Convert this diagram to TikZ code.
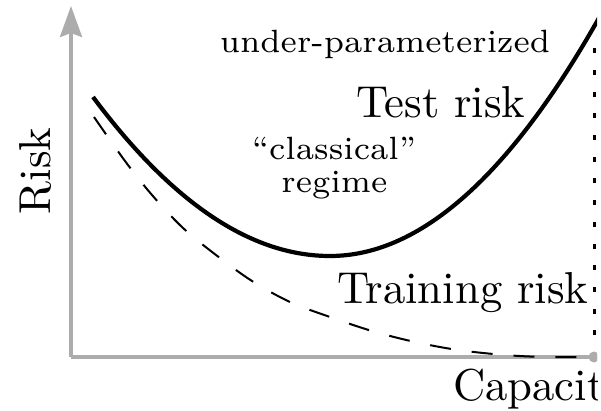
\documentclass[tikz,border=0pt]{standalone}
\usetikzlibrary{arrows.meta}
\definecolor{axisgray}{RGB}{172,172,172}
\begin{document}
\begin{tikzpicture}[x=1pt,y=-1pt,
  axisline/.style={draw=axisgray, line width=3.5pt},
  lbl/.style={inner sep=0pt, outer sep=0pt, scale=4.47, text=black},
  smalllbl/.style={inner sep=0pt, outer sep=0pt, scale=4.6, text=black, font=\scriptsize},
  testline/.style={draw=black, line width=4.2pt},
  trainline/.style={draw=black, line width=2pt, dash pattern=on 21pt off 21pt},
  boundline/.style={draw=black, line width=3pt, dash pattern=on 5pt off 16.7pt}]
\useasboundingbox (0,0) rectangle (601,411);
\clip (0,0) rectangle (597,411);
% named points
\coordinate (O) at (71,357);
\coordinate (ytop) at (71,6);
\coordinate (xend) at (620,357);
\coordinate (dot) at (594,357);
\coordinate (vtop) at (594,45);
\coordinate (t0) at (93,97);
\coordinate (tmin) at (330,256);
\coordinate (t1) at (610,-2);
% axes
\draw[axisline, -{Stealth[length=31pt,width=22pt,inset=4pt]}] (O) -- (ytop);
\draw[axisline] (O) -- (xend);
% interpolation threshold
\draw[boundline] (dot) -- (vtop);
% training risk
\draw[trainline] plot[smooth, tension=0.55] coordinates {(94,117) (125,161) (152,195) (183,228) (216,255) (252,281) (290,302) (330,317) (372,331) (415,342) (458,350) (505,355) (545,357) (594,357)};
% test risk
\draw[testline] (t0) .. controls (172,203) and (251,256) .. (tmin)
  .. controls (423.3,256) and (516.7,170) .. (t1);
\fill[axisgray] (dot) circle (5.5pt);
% labels
\node[lbl, rotate=90, anchor=base] (risk) at (50,171) {Risk};
\node[lbl, anchor=base west] (cap) at (453,400) {Capacity};
\node[lbl, anchor=base west] (test) at (356,118) {Test risk};
\node[lbl, anchor=base west] (train) at (337,303) {Training risk};
\node[smalllbl, anchor=base] (under) at (385,53) {under-parameterized};
\node[smalllbl, anchor=base] (class1) at (334,160) {``classical''};
\node[smalllbl, anchor=base] (class2) at (334.5,193) {regime};
\end{tikzpicture}
\end{document}
